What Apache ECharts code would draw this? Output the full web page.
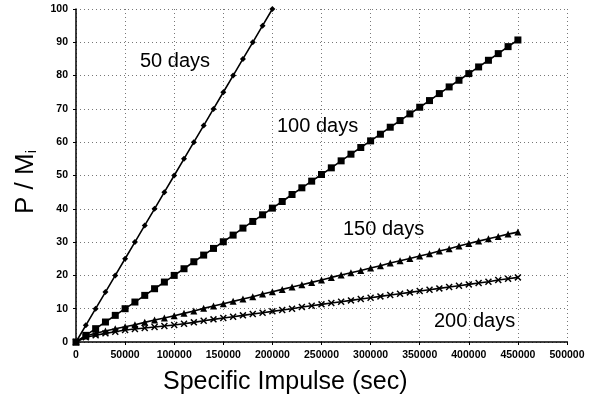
<!DOCTYPE html>
<html>
<head>
<meta charset="utf-8">
<title>P / Mi vs Specific Impulse</title>
<script src="https://cdn.jsdelivr.net/npm/echarts@6/dist/echarts.min.js"></script>
<style>
  html, body { margin: 0; padding: 0; background: #fff; }
  #chart { width: 594px; height: 404px; }
</style>
</head>
<body>
<div id="chart"></div>
<script>
// specific impulse (sec), one point every 10000
var isp = [0, 10000, 20000, 30000, 40000, 50000, 60000, 70000, 80000, 90000,
    100000, 110000, 120000, 130000, 140000, 150000, 160000, 170000, 180000, 190000,
    200000, 210000, 220000, 230000, 240000, 250000, 260000, 270000, 280000, 290000,
    300000, 310000, 320000, 330000, 340000, 350000, 360000, 370000, 380000, 390000,
    400000, 410000, 420000, 430000, 440000, 450000];

var days50 = [0, 5, 10, 15, 20, 25, 30, 35, 40, 45, 50, 55, 60, 65, 70, 75, 80, 85, 90, 95, 100];

var days100 = [0, 2, 4, 6, 8, 10, 12, 14, 16, 18, 20, 22, 24.1, 26.1, 28.1, 30.1, 32.1, 34.2, 36.2, 38.2,
    40.2, 42.2, 44.3, 46.3, 48.3, 50.3, 52.3, 54.4, 56.4, 58.4, 60.4, 62.4, 64.5, 66.5, 68.5,
    70.5, 72.5, 74.6, 76.6, 78.6, 80.6, 82.6, 84.6, 86.6, 88.7, 90.7];

var days150 = [0, 1.8, 2.6, 3.3, 4.0, 4.6, 5.2, 5.9, 6.6, 7.2, 7.9, 8.6, 9.3, 10.1, 10.8, 11.5,
    12.2, 12.9, 13.6, 14.4, 15.1, 15.8, 16.5, 17.2, 17.9, 18.6, 19.4, 20.1, 20.8, 21.5, 22.2,
    22.9, 23.7, 24.4, 25.1, 25.8, 26.5, 27.3, 28.0, 28.8, 29.6, 30.3, 31.0, 31.7, 32.4, 33.0];

var days200 = [0, 1.4, 2.0, 2.6, 3.1, 3.6, 3.9, 4.2, 4.5, 4.8, 5.1, 5.5, 5.9, 6.4, 6.8, 7.2,
    7.6, 8.0, 8.4, 8.8, 9.2, 9.6, 10.0, 10.5, 10.9, 11.3, 11.7, 12.1, 12.5, 12.9, 13.3,
    13.7, 14.1, 14.5, 14.9, 15.3, 15.7, 16.1, 16.5, 16.9, 17.3, 17.7, 18.1, 18.6, 19.0, 19.4];

var seriesNames = ['50 days', '100 days', '150 days', '200 days'];

var font = 'Liberation Sans, Arial, Helvetica, sans-serif';
var crossPath = 'path://M0,1.5L1.5,0L5,3.5L8.5,0L10,1.5L6.5,5L10,8.5L8.5,10L5,6.5L1.5,10L0,8.5L3.5,5Z';

function pairs(ys) {
    var out = [];
    for (var i = 0; i < ys.length; i++) {
        out.push([isp[i], ys[i]]);
    }
    return out;
}

function lineSeries(name, ys, symbol, size) {
    return {
        name: name,
        type: 'line',
        data: pairs(ys),
        symbol: symbol,
        symbolSize: size,
        showAllSymbol: true,
        lineStyle: { color: '#000', width: 1.6 },
        itemStyle: { color: '#000', borderWidth: 0 },
        emphasis: { disabled: true },
        animation: false
    };
}

var myChart = echarts.init(document.getElementById('chart'));

var tickLabel = { color: '#000', fontFamily: font, fontWeight: 'bold', fontSize: 10.5, margin: 8,
    formatter: function (v) { return String(v); } };

var option = {
    backgroundColor: '#fff',
    animation: false,
    grid: { left: 76, right: 27, top: 9, bottom: 62 },
    xAxis: {
        type: 'value',
        min: 0,
        max: 500000,
        interval: 50000,
        axisLine: { show: true, lineStyle: { color: '#000', width: 1.5 } },
        axisTick: { show: true, length: 3, lineStyle: { color: '#000' } },
        axisLabel: tickLabel,
        splitLine: { show: true, lineStyle: { color: '#777', type: [1, 3], width: 1 } }
    },
    yAxis: {
        type: 'value',
        min: 0,
        max: 100,
        interval: 10,
        axisLine: { show: true, lineStyle: { color: '#000', width: 1.5 } },
        axisTick: { show: true, length: 3, lineStyle: { color: '#000' } },
        axisLabel: tickLabel,
        splitLine: { show: true, lineStyle: { color: '#777', type: [1, 3], width: 1 } }
    },
    series: [
        lineSeries(seriesNames[0], days50, 'diamond', 6),
        lineSeries(seriesNames[1], days100, 'rect', 7),
        lineSeries(seriesNames[2], days150, 'triangle', 7),
        lineSeries(seriesNames[3], days200, crossPath, 7)
    ],
    graphic: [
        { type: 'text', left: 140, top: 51, style: { text: seriesNames[0], font: '20px ' + font, fill: '#000' } },
        { type: 'text', left: 277, top: 116, style: { text: seriesNames[1], font: '20px ' + font, fill: '#000' } },
        { type: 'text', left: 343, top: 219, style: { text: seriesNames[2], font: '20px ' + font, fill: '#000' } },
        { type: 'text', left: 434, top: 311, style: { text: seriesNames[3], font: '20px ' + font, fill: '#000' } },
        {
            type: 'text', left: 163, top: 370,
            style: { text: 'Specific Impulse (sec)', font: '25px ' + font, fill: '#000' }
        },
        {
            type: 'text', x: 13, y: 214, rotation: Math.PI / 2,
            style: {
                text: 'P / M{s|i}',
                font: '26px ' + font,
                fill: '#000',
                rich: { s: { fontSize: 14, fontFamily: font, verticalAlign: 'bottom', padding: [10, 0, 0, 0] } }
            }
        }
    ]
};

myChart.setOption(option);
</script>
</body>
</html>
